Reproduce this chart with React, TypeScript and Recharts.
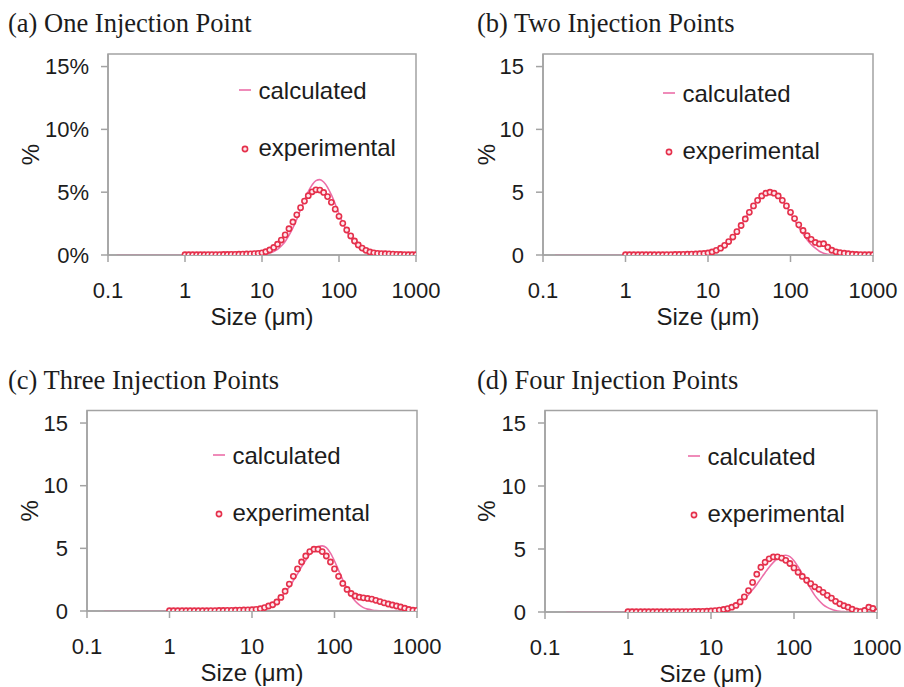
import React from 'react';
import { ComposedChart, Line, XAxis, YAxis, ReferenceArea, Legend, Label } from 'recharts';

// Particle size classes (µm), 20 per decade
const SIZES = [
  1.0, 1.12, 1.26, 1.42, 1.59, 1.78, 2.0, 2.24, 2.52, 2.83,
  3.17, 3.56, 3.99, 4.48, 5.02, 5.64, 6.32, 7.1, 7.96, 8.93,
  10.0, 11.2, 12.6, 14.2, 15.9, 17.8, 20.0, 22.4, 25.2, 28.3,
  31.7, 35.6, 39.9, 44.8, 50.2, 56.4, 63.2, 71.0, 79.6, 89.3,
  100, 112, 126, 142, 159, 178, 200, 224, 252, 283,
  317, 356, 399, 448, 502, 564, 632, 710, 796, 893,
  1000,
];

const X_TICKS = [0.1, 1, 10, 100, 1000];
const Y_TICKS = [0, 5, 10, 15];
const TITLES = ['(a) One Injection Point', '(b) Two Injection Points', '(c) Three Injection Points', '(d) Four Injection Points'];
const SERIES_NAMES = ['calculated', 'experimental'];
const CALC_STARTS = [0.13, 0.14, 0.16, 0.18];

const EXP_A = [
  0.02, 0.02, 0.02, 0.02, 0.02, 0.02, 0.03, 0.03, 0.03, 0.03,
  0.04, 0.04, 0.05, 0.05, 0.06, 0.07, 0.08, 0.09, 0.11, 0.13,
  0.17, 0.26, 0.4, 0.6, 0.86, 1.19, 1.6, 2.09, 2.63, 3.2,
  3.77, 4.29, 4.72, 5.03, 5.19, 5.17, 4.98, 4.65, 4.19, 3.65,
  3.08, 2.52, 1.99, 1.52, 1.12, 0.8, 0.55, 0.37, 0.24, 0.17,
  0.13, 0.11, 0.1, 0.09, 0.07, 0.05, 0.04, 0.03, 0.02, 0.02,
  0.02,
];
const CALC_A = [
  0, 0, 0, 0, 0, 0, 0, 0, 0, 0,
  0, 0, 0, 0, 0, 0, 0, 0, 0.01, 0.03,
  0.05, 0.09, 0.16, 0.28, 0.45, 0.72, 1.08, 1.56, 2.16, 2.85,
  3.6, 4.36, 5.05, 5.58, 5.92, 6.0, 5.81, 5.39, 4.78, 4.06,
  3.3, 2.56, 1.91, 1.35, 0.92, 0.6, 0.37, 0.22, 0.13, 0.07,
  0.03, 0.01, 0, 0, 0, 0, 0, 0, 0, 0,
  0,
];

const EXP_B = [
  0.02, 0.02, 0.02, 0.02, 0.02, 0.02, 0.02, 0.02, 0.02, 0.02,
  0.03, 0.03, 0.04, 0.04, 0.05, 0.06, 0.07, 0.08, 0.1, 0.12,
  0.16, 0.24, 0.37, 0.54, 0.77, 1.07, 1.43, 1.86, 2.35, 2.87,
  3.4, 3.91, 4.35, 4.7, 4.92, 5.0, 4.92, 4.7, 4.35, 3.91,
  3.4, 2.9, 2.4, 1.95, 1.55, 1.25, 1.0, 0.88, 0.9, 0.62,
  0.38, 0.25, 0.18, 0.14, 0.1, 0.06, 0.04, 0.03, 0.02, 0.02,
  0.02,
];
const CALC_B = [
  0, 0, 0, 0, 0, 0, 0, 0, 0, 0,
  0, 0, 0, 0, 0, 0, 0, 0, 0, 0.02,
  0.08, 0.15, 0.27, 0.44, 0.68, 1.0, 1.4, 1.86, 2.38, 2.92,
  3.45, 3.96, 4.4, 4.74, 4.95, 5.02, 4.93, 4.7, 4.33, 3.86,
  3.32, 2.75, 2.2, 1.68, 1.22, 0.84, 0.54, 0.3, 0.14, 0.05,
  0.01, 0, 0, 0, 0, 0, 0, 0, 0, 0,
  0,
];

const EXP_C = [
  0.02, 0.02, 0.02, 0.02, 0.02, 0.02, 0.02, 0.02, 0.02, 0.02,
  0.03, 0.03, 0.04, 0.04, 0.05, 0.05, 0.06, 0.07, 0.08, 0.09,
  0.1, 0.13, 0.18, 0.27, 0.4, 0.5, 0.72, 1.08, 1.58, 2.15,
  2.77, 3.36, 3.91, 4.39, 4.74, 4.93, 4.93, 4.74, 4.39, 3.91,
  3.36, 2.77, 2.2, 1.72, 1.4, 1.2, 1.1, 1.05, 1.0, 0.95,
  0.85, 0.75, 0.65, 0.56, 0.48, 0.4, 0.32, 0.22, 0.12, 0.06,
  0.05,
];
const CALC_C = [
  0, 0, 0, 0, 0, 0, 0, 0, 0, 0,
  0, 0, 0, 0, 0, 0, 0, 0, 0.02, 0.03,
  0.06, 0.1, 0.15, 0.24, 0.37, 0.55, 0.79, 1.09, 1.47, 1.91,
  2.42, 2.96, 3.52, 4.05, 4.52, 4.88, 5.12, 5.2, 5.05, 4.62,
  3.99, 3.25, 2.49, 1.8, 1.23, 0.79, 0.48, 0.27, 0.15, 0.08,
  0.03, 0.01, 0, 0, 0, 0, 0, 0, 0, 0,
  0,
];

const EXP_D = [
  0.02, 0.02, 0.02, 0.02, 0.02, 0.02, 0.02, 0.02, 0.02, 0.02,
  0.02, 0.02, 0.02, 0.03, 0.03, 0.03, 0.04, 0.04, 0.05, 0.06,
  0.08, 0.11, 0.15, 0.2, 0.27, 0.38, 0.52, 0.8, 1.2, 1.7,
  2.35, 3.0, 3.55, 3.95, 4.22, 4.37, 4.38, 4.28, 4.1, 3.85,
  3.5, 3.15, 2.82, 2.52, 2.25, 2.0, 1.8, 1.56, 1.32, 1.1,
  0.85, 0.65, 0.5, 0.38, 0.22, 0.08, 0.03, 0.12, 0.38, 0.28,
  0.02,
];
const CALC_D = [
  0, 0, 0, 0, 0, 0, 0, 0, 0, 0,
  0, 0, 0, 0, 0, 0, 0, 0, 0.01, 0.03,
  0.04, 0.06, 0.1, 0.16, 0.25, 0.37, 0.54, 0.76, 1.03, 1.37,
  1.76, 2.19, 2.65, 3.12, 3.56, 3.94, 4.24, 4.43, 4.5, 4.39,
  4.07, 3.59, 3.02, 2.41, 1.83, 1.32, 0.91, 0.59, 0.37, 0.22,
  0.12, 0.06, 0.03, 0.01, 0, 0, 0, 0, 0, 0,
  0,
];

const EXP_SERIES = [EXP_A, EXP_B, EXP_C, EXP_D];
const CALC_SERIES = [CALC_A, CALC_B, CALC_C, CALC_D];

const TEXT = '#1c1c1c';
const AXIS = '#a3a3a3';
const CALC_COLOR = '#ec6fa8';
const EXP_COLOR = '#e5304b';
const EXP_FILL = '#fde9ee';
const SANS = "'Liberation Sans', Arial, sans-serif";
const SERIF = "'Liberation Serif', 'Times New Roman', serif";

type Layout = {
  left: number; top: number; w: number; h: number;
  margin: { top: number; right: number; bottom: number; left: number };
  pctX: number; legendX: number; legendY: number;
  titleX: number; titleY: number; pctTicks: boolean;
};

const LAYOUTS: Layout[] = [
  { left: 0, top: 40, w: 450, h: 300, margin: { top: 14, right: 34, bottom: 11, left: 38 }, pctX: 30, legendX: 239, legendY: 35, titleX: 8, titleY: 8, pctTicks: true },
  { left: 450, top: 40, w: 454, h: 300, margin: { top: 14, right: 31, bottom: 11, left: 23 }, pctX: 36, legendX: 213, legendY: 38, titleX: 477, titleY: 8, pctTicks: false },
  { left: 0, top: 396, w: 450, h: 291, margin: { top: 14.5, right: 33, bottom: 2, left: 17 }, pctX: 29, legendX: 213, legendY: 44, titleX: 8, titleY: 365, pctTicks: false },
  { left: 450, top: 396, w: 454, h: 291, margin: { top: 14.4, right: 27, bottom: 1, left: 25 }, pctX: 37, legendX: 238, legendY: 45, titleX: 477, titleY: 365, pctTicks: false },
];

const fmtX = (v: number) => String(v);

const renderLegend = () => (
  <svg width={220} height={90} style={{ overflow: 'visible', display: 'block' }}>
    <line x1={0} x2={12} y1={15} y2={15} stroke={CALC_COLOR} strokeWidth={1.6} />
    <text x={19.5} y={15} dominantBaseline="central" fontSize={24} fill={TEXT} fontFamily={SANS}>{SERIES_NAMES[0]}</text>
    <circle cx={6} cy={74} r={2.6} stroke={EXP_COLOR} strokeWidth={1.6} fill={EXP_FILL} />
    <text x={19.5} y={72.5} dominantBaseline="central" fontSize={24} fill={TEXT} fontFamily={SANS}>{SERIES_NAMES[1]}</text>
  </svg>
);

function Panel({ idx }: { idx: number }) {
  const cfg = LAYOUTS[idx];
  const exp = EXP_SERIES[idx];
  const calc = CALC_SERIES[idx];
  const rows: { size: number; exp?: number; calc?: number }[] = [{ size: CALC_STARTS[idx], calc: 0 }];
  SIZES.forEach((s, i) => rows.push({ size: s, exp: exp[i], calc: calc[i] }));

  const pctLabel = (props: any) => {
    const vb = props.viewBox || {};
    const cy = (vb.y ?? 0) + (vb.height ?? 0) / 2;
    return (
      <text x={cfg.pctX} y={cy} transform={`rotate(-90 ${cfg.pctX} ${cy})`} textAnchor="middle" dominantBaseline="central" fontSize={24} fill={TEXT} fontFamily={SANS}>%</text>
    );
  };

  return (
    <>
      <div style={{ position: 'absolute', left: cfg.titleX, top: cfg.titleY, fontFamily: SERIF, fontSize: 26.5, lineHeight: '30px', color: TEXT, whiteSpace: 'nowrap' }}>
        {TITLES[idx]}
      </div>
      <div style={{ position: 'absolute', left: cfg.left, top: cfg.top, width: cfg.w, height: cfg.h, fontFamily: SANS }}>
        <ComposedChart width={cfg.w} height={cfg.h} data={rows} margin={cfg.margin}>
          <XAxis
            dataKey="size"
            type="number"
            scale="log"
            domain={[0.1, 1000]}
            ticks={X_TICKS}
            allowDataOverflow
            interval={0}
            tickFormatter={fmtX}
            tick={{ fill: TEXT, fontSize: 22 }}
            tickSize={7}
            tickMargin={20}
            axisLine={{ stroke: AXIS, strokeWidth: 1.5 }}
            tickLine={{ stroke: AXIS, strokeWidth: 1.5 }}
            height={74}
          >
            <Label value="Size (μm)" position="insideBottom" offset={4} fill={TEXT} fontSize={24} />
          </XAxis>
          <YAxis
            type="number"
            domain={[0, 16]}
            ticks={Y_TICKS}
            allowDataOverflow
            interval={0}
            tickFormatter={(v: number) => (cfg.pctTicks ? `${v}%` : String(v))}
            tick={{ fill: TEXT, fontSize: 22 }}
            tickSize={7}
            tickMargin={12}
            axisLine={{ stroke: AXIS, strokeWidth: 1.5 }}
            tickLine={{ stroke: AXIS, strokeWidth: 1.5 }}
            width={70}
          >
            <Label content={pctLabel} />
          </YAxis>
          <ReferenceArea x1={0.1} x2={1000} y1={0} y2={16} fill="none" stroke={AXIS} strokeWidth={1.5} ifOverflow="visible" />
          <Line
            dataKey="calc"
            name={SERIES_NAMES[0]}
            type="monotone"
            stroke={CALC_COLOR}
            strokeWidth={1.6}
            dot={false}
            isAnimationActive={false}
          />
          <Line
            dataKey="exp"
            name={SERIES_NAMES[1]}
            stroke="none"
            dot={{ r: 2.6, stroke: EXP_COLOR, strokeWidth: 1.6, fill: EXP_FILL }}
            isAnimationActive={false}
          />
          <Legend
            layout="vertical"
            align="center"
            verticalAlign="middle"
            wrapperStyle={{ left: cfg.legendX, top: cfg.legendY, width: 220, height: 90 }}
            content={renderLegend}
          />
        </ComposedChart>
      </div>
    </>
  );
}

export default function App() {
  return (
    <div style={{ position: 'absolute', left: 0, top: 0, width: 904, height: 687, background: '#fff', overflow: 'hidden' }}>
      {[0, 1, 2, 3].map((i) => (
        <Panel key={i} idx={i} />
      ))}
    </div>
  );
}
